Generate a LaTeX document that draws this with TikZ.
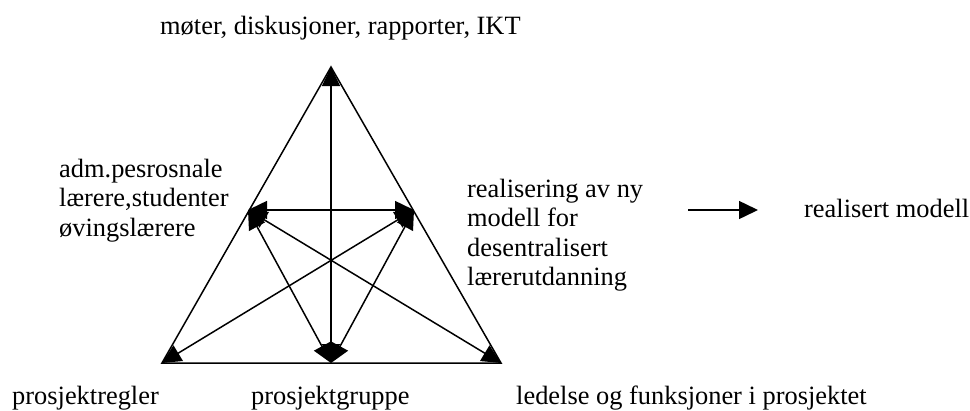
\documentclass[tikz,border=0pt]{standalone}
\usepackage{fontspec}
\setmainfont{Liberation Serif}
\usetikzlibrary{arrows.meta}
\begin{document}
\begin{tikzpicture}[x=1pt,y=-1pt,
  lbl/.style={anchor=base west,inner sep=0pt,font=\fontsize{26.4}{29.5}\selectfont},
  edge/.style={line width=1.5pt},
  dbl/.style={line width=1.5pt,{Triangle[length=19pt,width=18pt]}-{Triangle[length=19pt,width=18pt]}},
  one/.style={line width=1.5pt,-{Triangle[length=19pt,width=18pt]}}]
\useasboundingbox (0,0) rectangle (970,410);
\coordinate (A) at (331,67);
\coordinate (BL) at (162,363);
\coordinate (BR) at (501,363);
\coordinate (BC) at (331,363);
\coordinate (ML) at (248,210);
\coordinate (MR) at (414,210);
\coordinate (E1) at (688,210);
\coordinate (E2) at (758,210);
% triangle outline
\draw[edge,line join=miter] (A) -- (BL) -- (BR) -- cycle;
% connectors
\draw[dbl] (ML) -- (MR);
\draw[dbl] (BC) -- (A);
\draw[dbl] (BL) -- (MR);
\draw[dbl] (BR) -- (ML);
\draw[dbl] (ML) -- (BC);
\draw[dbl] (MR) -- (BC);
\draw[one] (E1) -- (E2);
% labels
\node[lbl] (top) at (160,34) {møter, diskusjoner, rapporter, IKT};
\node[lbl] (l1) at (59,177) {adm.pesrosnale};
\node[lbl] (l2) at (59,206.5) {lærere,studenter};
\node[lbl] (l3) at (59,236) {øvingslærere};
\node[lbl] (r1) at (467,197) {realisering av ny};
\node[lbl] (r2) at (467,226.5) {modell for};
\node[lbl] (r3) at (467,256) {desentralisert};
\node[lbl] (r4) at (467,285.5) {lærerutdanning};
\node[lbl] (res) at (804,217) {realisert modell};
\node[lbl] (b1) at (12,404) {prosjektregler};
\node[lbl] (b2) at (251,404) {prosjektgruppe};
\node[lbl] (b3) at (516,404) {ledelse og funksjoner i prosjektet};
\end{tikzpicture}
\end{document}
